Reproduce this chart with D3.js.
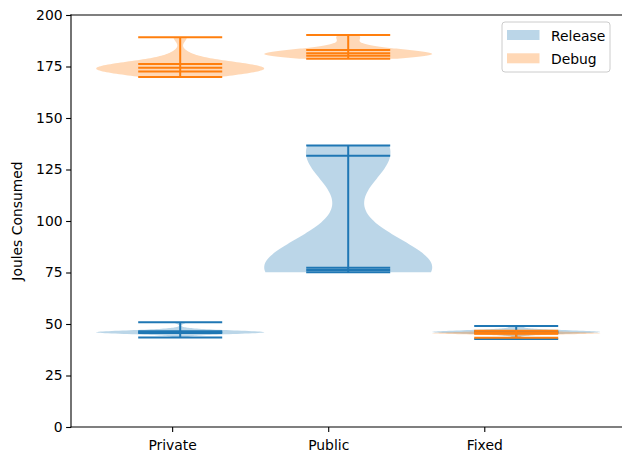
<!DOCTYPE html>
<html>
<head>
<meta charset="utf-8">
<script src="https://cdn.jsdelivr.net/npm/d3@7"></script>
<style>
  html, body { margin: 0; padding: 0; background: #fff; }
  svg { display: block; font-family: "DejaVu Sans", sans-serif; }
</style>
</head>
<body>
<svg id="chart" width="622" height="459"></svg>
<script>
// Build variants and the energy measurements (joules) for each.
const categories = ["Private", "Public", "Fixed"];
const seriesNames = ["Release", "Debug"];
const yTicks = [0, 25, 50, 75, 100, 125, 150, 175, 200];

const releaseRuns = [
  // Private
  [43.5, 45.2, 45.4, 45.5, 45.6, 45.65, 45.7, 45.8, 45.9, 46.0,
   46.0, 46.1, 46.2, 46.3, 46.45, 46.6, 46.7, 46.9, 47.5, 50.8],
  // Public
  [75.1, 75.3, 75.5, 75.7, 75.8, 75.9, 76.0, 76.1, 76.5, 76.7,
   76.8, 77.0, 77.1, 77.15, 77.2, 77.4, 79.0, 81.0, 84.0, 88.0,
   127.0, 131.0, 131.93, 132.6, 133.3, 134.0, 134.7, 135.4, 136.0, 136.6],
  // Fixed
  [42.7, 44.8, 45.2, 45.5, 45.7, 45.8, 45.9, 46.0, 46.0, 46.1,
   46.1, 46.2, 46.3, 46.4, 46.5, 46.6, 46.8, 47.0, 47.5, 49.0]
];

const debugRuns = [
  // Private
  [169.9, 170.8, 171.4, 171.9, 172.3, 172.6, 173.0, 173.4, 173.8, 174.2,
   174.6, 174.9, 175.3, 175.7, 176.1, 176.5, 177.0, 177.8, 181.0, 189.2],
  // Public
  [178.8, 179.3, 179.6, 179.9, 180.05, 180.25, 180.7, 181.0, 181.2, 181.3,
   181.5, 181.8, 182.1, 182.5, 182.9, 183.3, 184.0, 185.5, 188.5, 190.3],
  // Fixed
  [43.35, 44.6, 44.9, 45.1, 45.2, 45.3, 45.4, 45.45, 45.5, 45.5,
   45.6, 45.6, 45.7, 45.8, 45.9, 46.0, 46.1, 46.3, 46.5, 46.75]
];

const colors = ["#1f77b4", "#ff7f0e"];

// ---- layout ----
const svg = d3.select("#chart");
const plot = { left: 71, top: 15, bottom: 427, right: 625.4 };
const violinWidth = 1.0;            // full width of each violin, in x units
const labelAt = [0.952, 1.881, 2.810]; // x positions of the category ticks

const x = d3.scaleLinear().domain([0.35, 3.65]).range([plot.left, plot.right]);
const y = d3.scaleLinear().domain([0, 200]).range([plot.bottom, plot.top]);

// Gaussian KDE with Scott's bandwidth, evaluated on 100 points from min to max
function violinStats(values) {
  const v = values.slice().sort(d3.ascending);
  const n = v.length;
  const bw = d3.deviation(v) * Math.pow(n, -1 / 5);
  const lo = v[0], hi = v[n - 1];
  const grid = d3.range(100).map(i => lo + (hi - lo) * i / 99);
  const dens = grid.map(g => d3.sum(v, xi => Math.exp(-0.5 * ((g - xi) / bw) ** 2)));
  const mx = d3.max(dens);
  return {
    coords: grid.map((g, i) => ({ v: g, w: 0.5 * violinWidth * dens[i] / mx })),
    min: lo, max: hi,
    quantiles: [0.25, 0.5, 0.75].map(p => d3.quantileSorted(v, p))
  };
}

const groups = [releaseRuns, debugRuns].map(runs => runs.map(violinStats));

const gBodies = svg.append("g");
const gLines = svg.append("g");

groups.forEach((stats, s) => {
  const area = d3.area()
    .curve(d3.curveLinear)
    .y(d => y(d.v));
  stats.forEach((st, i) => {
    const pos = i + 1;
    area.x0(d => x(pos - d.w)).x1(d => x(pos + d.w));
    gBodies.append("path")
      .attr("d", area(st.coords))
      .attr("fill", colors[s])
      .attr("fill-opacity", 0.3)
      .attr("stroke", "none");
  });
});

groups.forEach((stats, s) => {
  stats.forEach((st, i) => {
    const pos = i + 1;
    const half = 0.25 * violinWidth;
    const levels = [st.max, st.min, ...st.quantiles];
    levels.forEach(val => {
      gLines.append("line")
        .attr("x1", x(pos - half)).attr("x2", x(pos + half))
        .attr("y1", y(val)).attr("y2", y(val))
        .attr("stroke", colors[s]).attr("stroke-width", 2);
    });
    gLines.append("line")
      .attr("x1", x(pos)).attr("x2", x(pos))
      .attr("y1", y(st.min)).attr("y2", y(st.max))
      .attr("stroke", colors[s]).attr("stroke-width", 2);
  });
});

// ---- axes ----
const yAxis = d3.axisLeft(y).tickValues(yTicks).tickSize(4.9).tickPadding(3.5);
const gy = svg.append("g").attr("transform", `translate(${plot.left},0)`).call(yAxis);

const xAxis = d3.axisBottom(x).tickValues(labelAt)
  .tickFormat((d, i) => categories[i]).tickSize(4.9).tickPadding(8);
const gx = svg.append("g").attr("transform", `translate(0,${plot.bottom})`).call(xAxis);

[gx, gy].forEach(g => {
  g.select(".domain").remove();
  g.selectAll("text").attr("font-size", 13.9).attr("fill", "#000")
    .attr("font-family", "DejaVu Sans, sans-serif");
  g.selectAll(".tick line").attr("stroke", "#000").attr("stroke-width", 1.1);
});

// spines
const spine = { stroke: "#000", "stroke-width": 1.1, "stroke-linecap": "square" };
function addSpine(x1, y1, x2, y2) {
  const l = svg.append("line").attr("x1", x1).attr("y1", y1).attr("x2", x2).attr("y2", y2);
  Object.entries(spine).forEach(([k, v]) => l.attr(k, v));
}
addSpine(plot.left, plot.top, plot.left, plot.bottom);
addSpine(plot.left, plot.bottom, plot.right, plot.bottom);
addSpine(plot.left, plot.top, plot.right, plot.top);
addSpine(plot.right, plot.top, plot.right, plot.bottom);

// y label
svg.append("text")
  .attr("transform", `translate(22,${(plot.top + plot.bottom) / 2}) rotate(-90)`)
  .attr("text-anchor", "middle")
  .attr("font-size", 13.9)
  .text("Joules Consumed");

// ---- legend ----
const lg = svg.append("g").attr("transform", "translate(502,22)");
lg.append("rect")
  .attr("width", 108).attr("height", 50).attr("rx", 3)
  .attr("fill", "#fff").attr("fill-opacity", 0.8)
  .attr("stroke", "#ccc").attr("stroke-width", 1);
seriesNames.forEach((name, i) => {
  const row = lg.append("g").attr("transform", `translate(5,${8 + i * 23.3})`);
  row.append("rect").attr("width", 32.5).attr("height", 10)
    .attr("fill", colors[i]).attr("fill-opacity", 0.3);
  row.append("text").attr("x", 44).attr("y", 10.5)
    .attr("font-size", 13.9).text(name);
});
</script>
</body>
</html>
